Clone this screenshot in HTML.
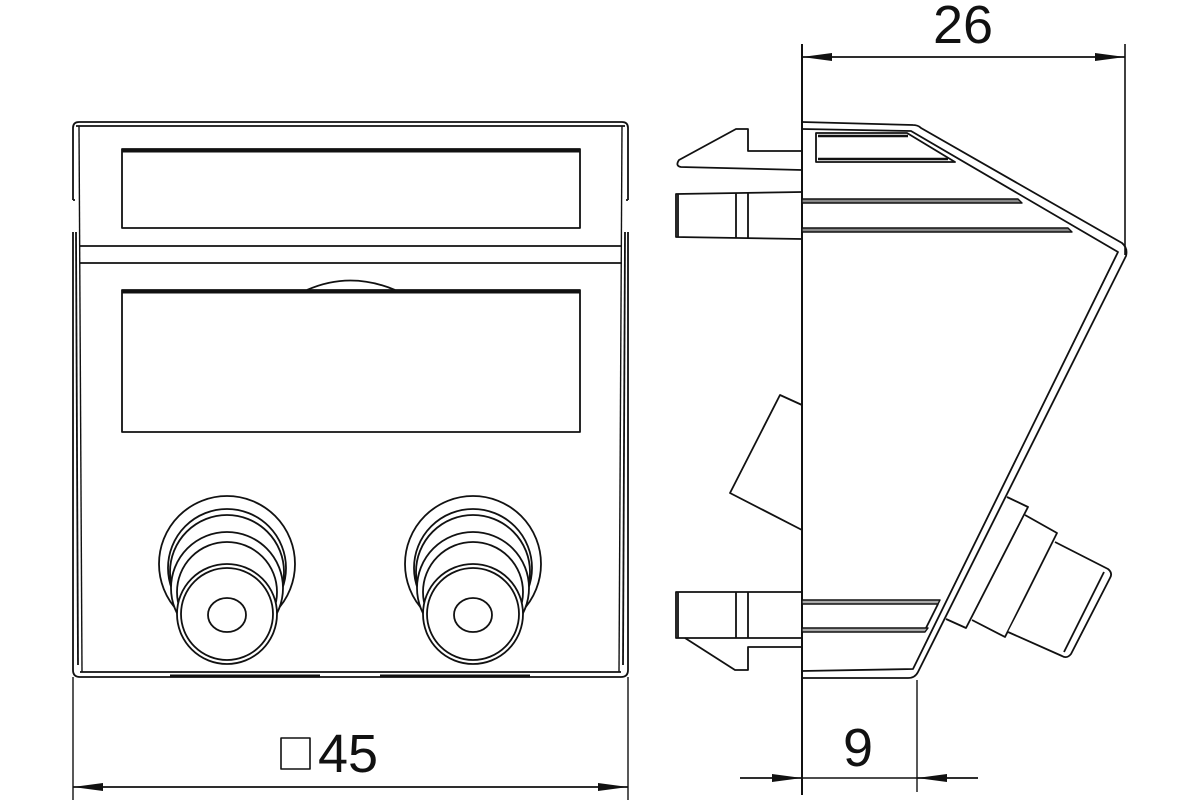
<!DOCTYPE html>
<html><head><meta charset="utf-8"><style>html,body{margin:0;padding:0;background:#fff}svg{display:block}</style></head>
<body>
<svg width="1200" height="800" viewBox="0 0 1200 800" xmlns="http://www.w3.org/2000/svg" fill="none" stroke="#111" stroke-width="1.8" stroke-linejoin="round">
<defs>
<marker id="a" viewBox="0 0 30 10" refX="30" refY="5" markerWidth="30" markerHeight="10" markerUnits="userSpaceOnUse" orient="auto"><path d="M0,1 L30,5 L0,9 Z" fill="#111" stroke="none"/></marker>
</defs>
<!-- FRONT VIEW -->
<path d="M73,200 L73,128 Q73,122 79,122 L622,122 Q628,122 628,128 L628,200"/>
<line x1="76" y1="126" x2="625" y2="126"/>
<path d="M73,200 L75,200 M626,200 L628,200"/>
<path d="M73,232 L73,670 Q73,677 80,677 L621,677 Q628,677 628,670 L628,232"/>
<line x1="76" y1="232" x2="78" y2="665"/>
<line x1="625" y1="232" x2="623" y2="665"/>
<line x1="79" y1="126" x2="82" y2="672" stroke-width="1.4"/>
<line x1="622" y1="126" x2="619" y2="672" stroke-width="1.4"/>
<line x1="80" y1="672" x2="621" y2="672"/>
<line x1="170" y1="676" x2="320" y2="676" stroke-width="3"/>
<line x1="380" y1="676" x2="530" y2="676" stroke-width="3"/>
<rect x="122" y="149" width="458" height="79"/>
<line x1="122" y1="151" x2="580" y2="151" stroke-width="3"/>
<path d="M80,246 L622,246 M80,263 L622,263"/>
<path d="M307,290 Q350,271 395,290"/>
<rect x="122" y="290" width="458" height="142"/>
<line x1="122" y1="292" x2="580" y2="292" stroke-width="3"/>
<g id="c1" fill="#fff">
<circle cx="227" cy="564" r="68"/>
<circle cx="227" cy="568" r="59"/>
<circle cx="227" cy="572" r="57"/>
<circle cx="227" cy="588" r="56"/>
<circle cx="227" cy="592" r="50"/>
<circle cx="227" cy="614" r="50"/>
<circle cx="227" cy="614" r="46"/>
<ellipse cx="227" cy="615" rx="19" ry="17"/>
</g>
<use href="#c1" x="246"/>
<!-- dimension 45 -->
<line x1="73" y1="677" x2="73" y2="800" stroke-width="1.4"/>
<line x1="628" y1="677" x2="628" y2="800" stroke-width="1.4"/>
<line x1="110" y1="787" x2="73" y2="787" marker-end="url(#a)"/>
<line x1="590" y1="787" x2="628" y2="787" marker-end="url(#a)"/>
<line x1="110" y1="787" x2="590" y2="787"/>
<rect x="281" y="738" width="29" height="31" stroke-width="1.6"/>
<text x="318" y="772" font-family="Liberation Sans, sans-serif" font-size="54" fill="#111" stroke="none">45</text>
<!-- SIDE VIEW -->
<line x1="802" y1="44" x2="802" y2="795" stroke-width="2"/>
<line x1="1125" y1="44" x2="1125" y2="255" stroke-width="1.6"/>
<line x1="850" y1="57" x2="802" y2="57" marker-end="url(#a)"/>
<line x1="1080" y1="57" x2="1125" y2="57" marker-end="url(#a)"/>
<line x1="850" y1="57" x2="1080" y2="57"/>
<text x="963" y="43" text-anchor="middle" font-family="Liberation Sans, sans-serif" font-size="54" fill="#111" stroke="none">26</text>
<!-- top plate and diagonals -->
<path d="M802,122 L913,125 Q918,125 921,128 L1122,243 Q1128,248 1126,256 L918,672 Q915,678 908,678 L802,678"/>
<path d="M802,129 L911,131 L1118,252 L913,669 L802,671"/>
<path d="M816,133 L907,133 L955,162 L816,162 Z"/>
<path d="M818,136 L908,136 M818,159 L948,159" stroke-width="2.5"/>
<path d="M802,199 L1018,199 L1022,203 L802,203 Z" fill="#888" stroke-width="1.4"/>
<path d="M802,228 L1068,228 L1072,232 L802,232 Z" fill="#888" stroke-width="1.4"/>
<path d="M802,600 L940,600 L938,604 L802,604 Z" fill="#aaa" stroke-width="1.4"/>
<path d="M802,628 L928,628 L925,632 L802,632 Z" fill="#aaa" stroke-width="1.4"/>
<line x1="938" y1="604" x2="926" y2="628"/>
<!-- clips -->
<path d="M802,151 L748,151 L748,129 L736,129 L679,160 Q675,166 681,167 L802,170"/>
<path d="M802,192 L676,194 L676,237 L802,239"/>
<line x1="678" y1="194" x2="678" y2="237"/>
<line x1="736" y1="193" x2="736" y2="238"/>
<line x1="748" y1="193" x2="748" y2="238"/>
<path d="M802,592 L676,592 L676,638 L802,638"/>
<line x1="678" y1="592" x2="678" y2="638"/>
<line x1="736" y1="592" x2="736" y2="638"/>
<line x1="748" y1="592" x2="748" y2="638"/>
<path d="M685,638 L735,670 L748,670 L748,647 L802,647"/>
<path d="M802,405 L780,395 L730,493 L802,530"/>
<!-- right connector -->
<path d="M1007,497 L1028,507 L966,628 L946,619" fill="#fff"/>
<path d="M1025,515 L1057,533 L1005,637 L972,620" fill="#fff"/>
<path d="M1055,542 L1108,569 Q1113,573 1110,578 L1071,654 Q1067,659 1062,656 L1008,632" fill="#fff"/>
<line x1="1104" y1="572" x2="1064" y2="652"/>
<!-- dimension 9 -->
<line x1="917" y1="680" x2="917" y2="792" stroke-width="1.4"/>
<line x1="740" y1="778" x2="802" y2="778" marker-end="url(#a)"/>
<line x1="978" y1="778" x2="917" y2="778" marker-end="url(#a)"/>
<line x1="802" y1="778" x2="917" y2="778" stroke-width="1.4"/>
<text x="858" y="766" text-anchor="middle" font-family="Liberation Sans, sans-serif" font-size="54" fill="#111" stroke="none">9</text>
</svg>
</body></html>
